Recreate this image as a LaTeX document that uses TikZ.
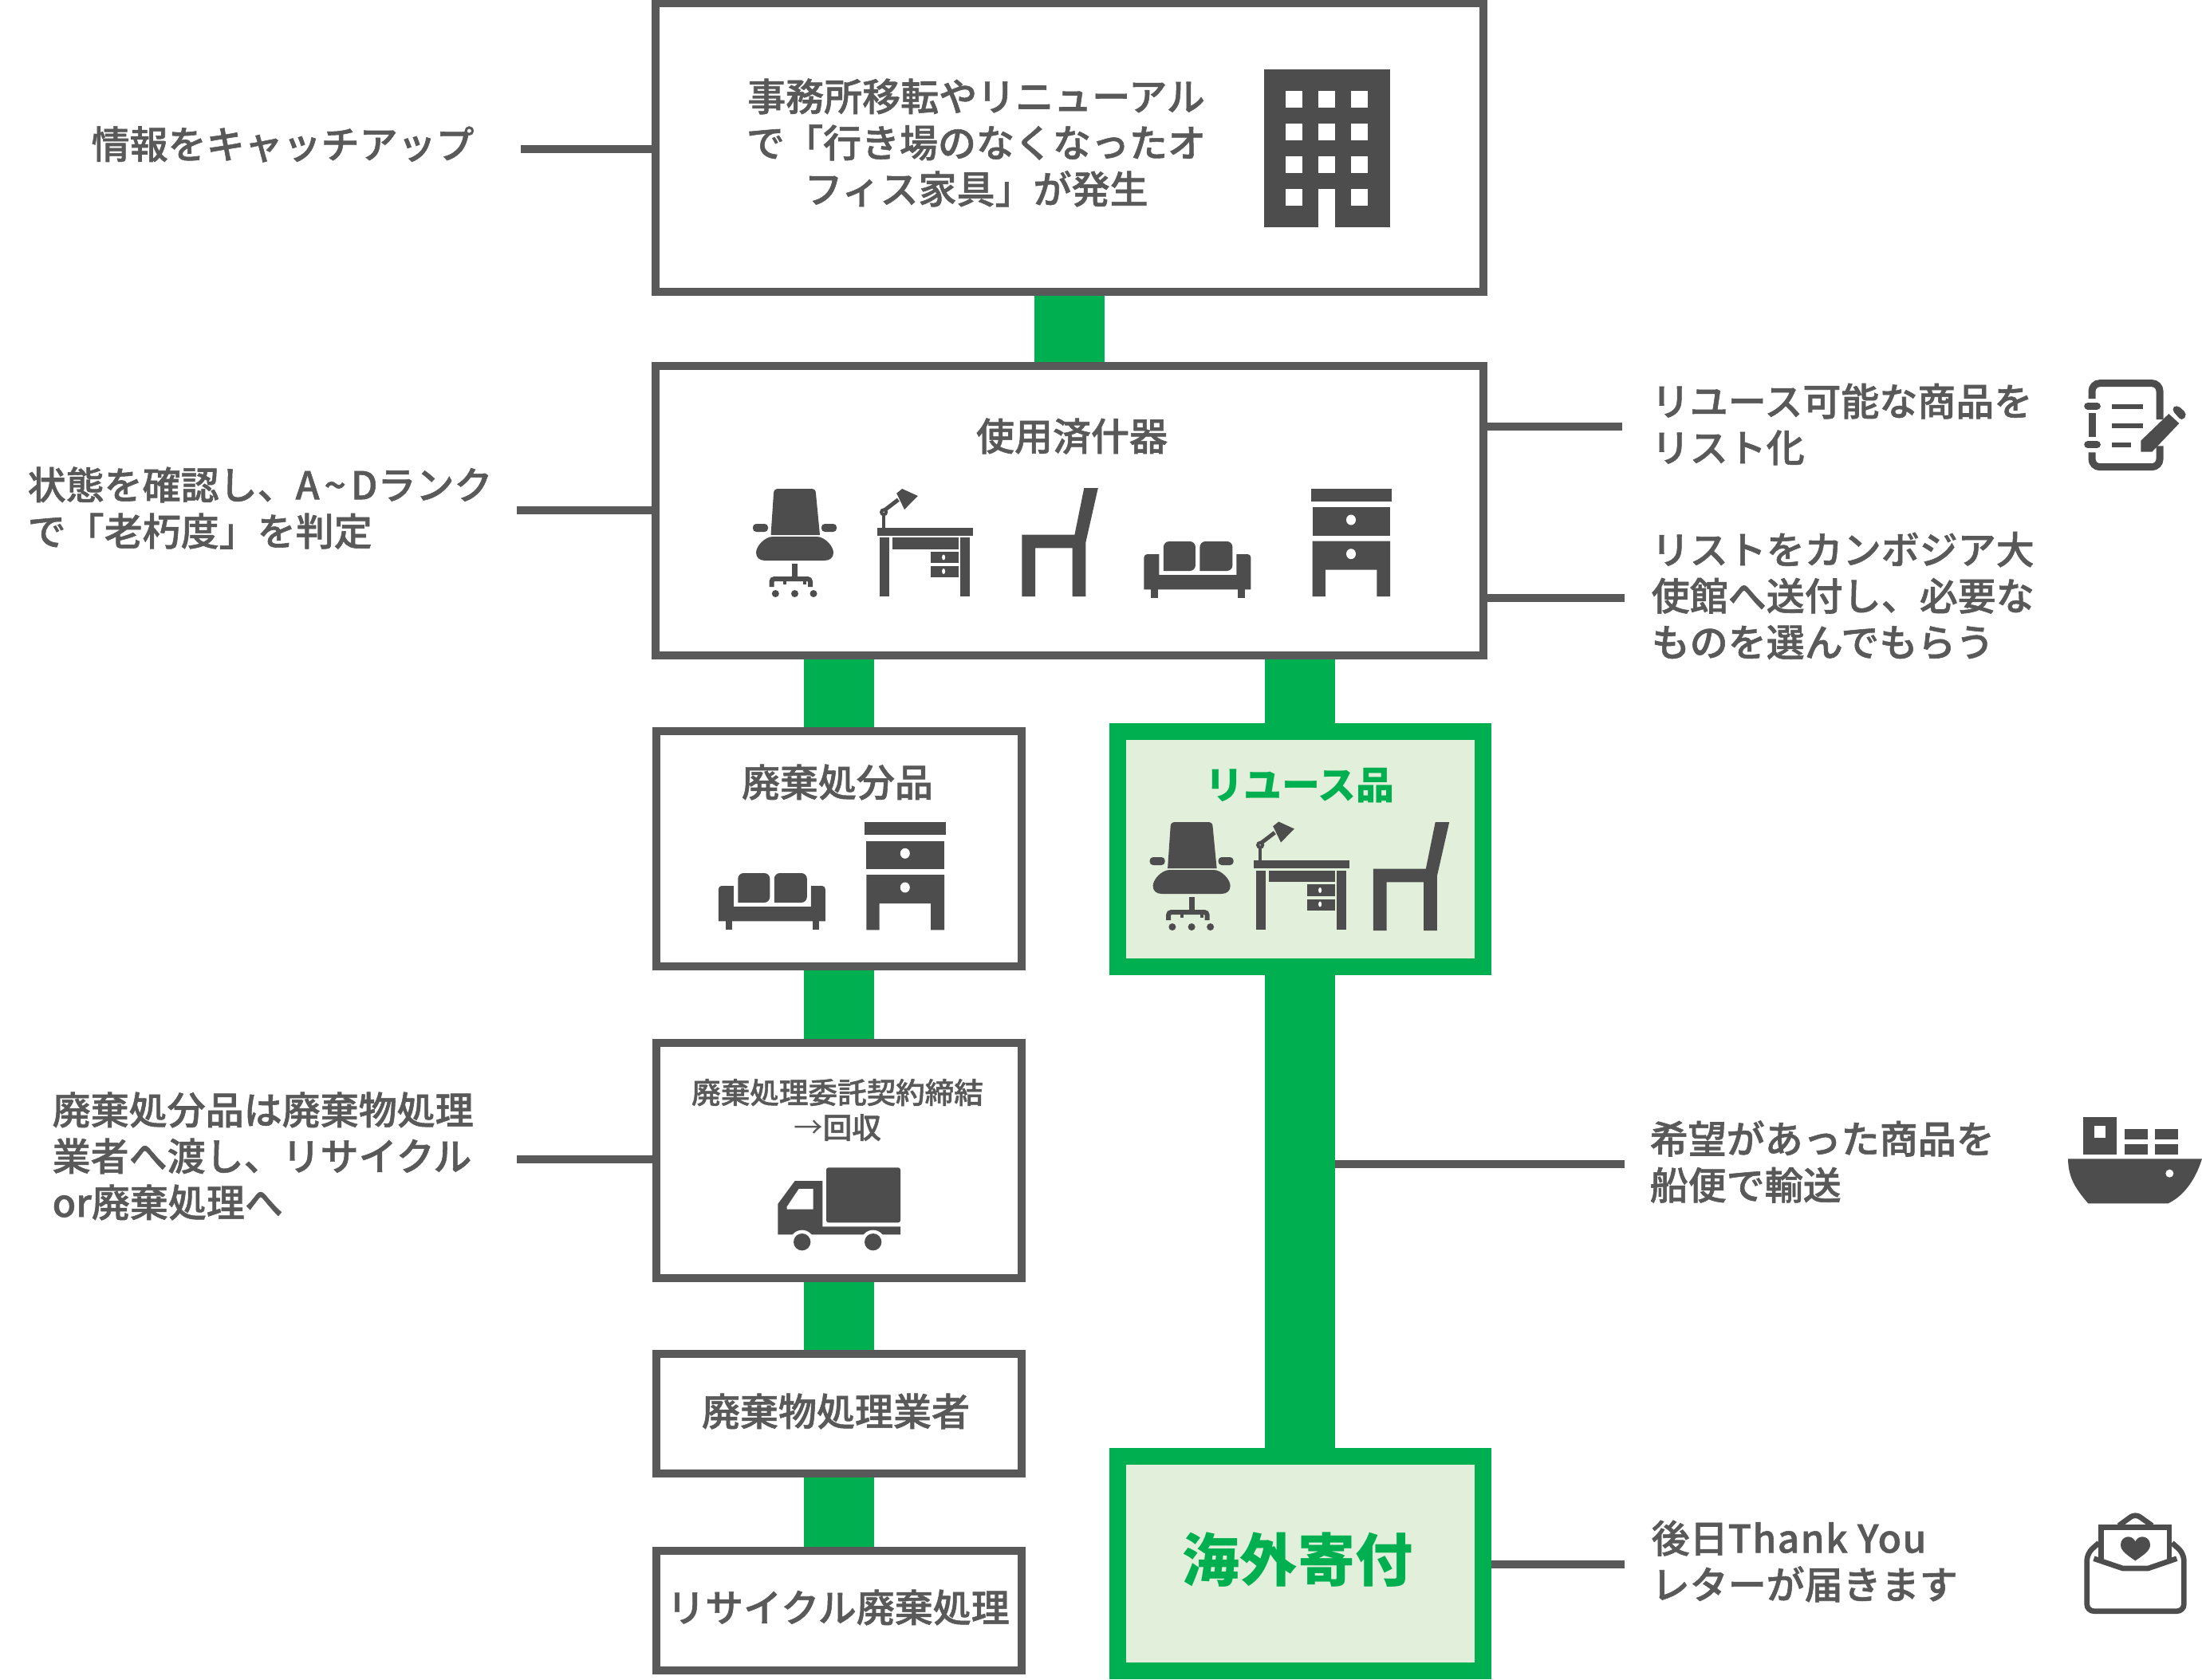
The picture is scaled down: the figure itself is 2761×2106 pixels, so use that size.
\documentclass[tikz,border=0pt]{standalone}
\usepackage{fontspec}
\setmainfont{Noto Sans CJK JP}[BoldFont={Noto Sans CJK JP Medium},BoldFeatures={FakeBold=1.2}]
\newfontfamily\heavyface{Noto Sans CJK JP}
\usetikzlibrary{positioning}
\definecolor{ink}{HTML}{595959}
\definecolor{icon}{HTML}{4D4D4D}
\definecolor{flowc}{HTML}{00B050}
\definecolor{pale}{HTML}{E2EFDA}
\tikzset{
  box/.style={draw=ink, fill=white, line width=0.1cm, inner sep=0pt},
  goodbox/.style={draw=flowc, fill=pale, line width=0.21cm, inner sep=0pt},
  flow/.style={flowc, line width=0.88cm},
  leader/.style={ink, line width=0.1cm},
  note/.style={text=ink, align=left, anchor=west, inner sep=0pt, font=\fontsize{13.65}{16.5}\selectfont\bfseries},
  title/.style={text=ink, align=center, inner sep=0pt, font=\fontsize{13.65}{16.5}\selectfont\bfseries},
}
% icons, (#1) is the top left corner
\newcommand{\deskchair}[1]{\begin{scope}[shift={#1}]
  \fill[icon] (22.5,58) -- (26,6) .. controls (26,2) and (28,0) .. (32,0) -- (73,0) .. controls (77,0) and (79,2) .. (79,6) -- (84,58) -- cycle;
  \fill[icon, rounded corners=1.2pt] (0,44) rectangle (19,54);
  \fill[icon, rounded corners=1.2pt] (86,44) rectangle (105,54);
  \fill[icon] (25,60) -- (80,60) .. controls (90,60) and (101,72) .. (101,80) .. controls (101,86) and (97,90) .. (90,90) -- (15,90) .. controls (8,90) and (4,86) .. (4,80) .. controls (4,72) and (15,60) .. (25,60) -- cycle;
  \fill[icon] (49,94) rectangle (56,110);
  \draw[icon, line width=0.06cm, rounded corners=1pt] (23.5,123) -- (23.5,113) -- (72,113) -- (72,123);
  \draw[icon, line width=0.04cm] (40,113) -- (40,120) (65,113) -- (65,120);
  \foreach \xx in {28.3,52.5,76} \fill[icon] (\xx,131.5) ellipse (4.5 and 4.5);
\end{scope}}
\newcommand{\officedesk}[1]{\begin{scope}[shift={#1}]
  \fill[icon] (0,48.5) rectangle (120,58.5);
  \fill[icon] (3.5,61) rectangle (15.5,135);
  \fill[icon] (104,61) rectangle (116,135);
  \fill[icon] (19,61) rectangle (102,75.5);
  \fill[icon] (67,78.7) rectangle (102,93);
  \fill[icon] (67,97) rectangle (102,111.3);
  \fill[white] (83.5,86) ellipse (2 and 3.5);
  \fill[white] (83.5,103.5) ellipse (2 and 3.5);
  \draw[icon, line width=0.04cm] (8.5,32) -- (8.5,48.5);
  \draw[icon, line width=0.04cm] (8.5,29.3) circle (3);
  \draw[icon, line width=0.05cm] (10,26.5) -- (26.7,13.7);
  \fill[icon] (31.6,0) -- (51.3,9) -- (34.4,26) -- (24.6,5.7) -- cycle;
\end{scope}}
\newcommand{\sidechair}[1]{\begin{scope}[shift={#1}]
  \fill[icon] (77.9,0) -- (95.4,0) -- (80,68) -- (80,136) -- (63.2,136) -- (63.2,75.3) -- (16.8,75.3) -- (16.8,136) -- (0,136) -- (0,58.7) -- (66,58.7) -- cycle;
\end{scope}}
\newcommand{\sofa}[1]{\begin{scope}[shift={#1}]
  \fill[icon, rounded corners=2pt] (24.5,37) -- (24.5,0) -- (64.5,0) -- (64.5,37) [sharp corners] -- cycle;
  \fill[icon, rounded corners=2pt] (70,37) -- (70,0) -- (111,0) -- (111,37) [sharp corners] -- cycle;
  \fill[icon] (0,60.3) -- (0,20) .. controls (0,18) and (2,16) .. (4,16) -- (19,16) -- (19,42) -- (116,42) -- (116,16) -- (130,16) .. controls (132,16) and (134,18) .. (134,20) -- (134,60.3) -- cycle;
  \fill[icon] (9,60.3) rectangle (17.5,71);
  \fill[icon] (118,60.3) rectangle (126.5,71);
\end{scope}}
\newcommand{\cabinet}[1]{\begin{scope}[shift={#1}]
  \fill[icon] (0,0) rectangle (101.7,16);
  \fill[icon] (2,23.6) rectangle (99.7,59.3);
  \fill[icon] (2,66) -- (99.7,66) -- (99.7,135.3) -- (82.9,135.3) -- (82.9,102) -- (18.3,102) -- (18.3,135.3) -- (2,135.3) -- cycle;
  \fill[white] (50.5,39.3) ellipse (6 and 6.5);
  \fill[white] (50.5,82) ellipse (6 and 6.5);
\end{scope}}

\begin{document}
\begin{tikzpicture}[x=0.01cm, y=-0.01cm]
  \useasboundingbox (0,0) rectangle (2761,2106);
  % boxes
  \node[box, minimum width=10.37cm, minimum height=3.61cm] (office) at (1341,185) {};
  \node[box, minimum width=10.37cm, minimum height=3.63cm] (used) at (1341,640.5) {};
  \node[box, minimum width=4.58cm, minimum height=2.947cm] (disposal) at (1052,1064.3) {};
  \node[goodbox, minimum width=4.58cm, minimum height=2.947cm] (reuse) at (1630.4,1064.9) {};
  \node[box, minimum width=4.58cm, minimum height=2.95cm] (contract) at (1052,1455.5) {};
  \node[box, minimum width=4.58cm, minimum height=1.497cm] (dealer) at (1052,1773) {};
  \node[box, minimum width=4.58cm, minimum height=1.5cm] (recycle) at (1052,2020) {};
  \node[goodbox, minimum width=4.58cm, minimum height=2.69cm] (donate) at (1630.4,1961) {};
  % green bars
  \draw[flow] (office) -- (used);
  \draw[flow] (disposal.north) -- (disposal.north |- used.south);
  \draw[flow] (reuse.north) -- (reuse.north |- used.south);
  \draw[flow] (disposal) -- (contract);
  \draw[flow] (contract) -- (dealer);
  \draw[flow] (dealer) -- (recycle);
  \draw[flow] (reuse) -- (donate);
  % box texts
  \node[title] (officetxt) at (1224,179) {事務所移転やリニューアル\\で「行き場のなくなったオ\\フィス家具」が発生};
  \node[title] (usedtxt) at (1344,547) {使用済什器};
  \node[title] (disposaltxt) at (1050,981) {廃棄処分品};
  \node[title, text=flowc, font=\fontsize{13.65}{16.5}\selectfont\heavyface\bfseries] (reusetxt) at (1630,985) {リユース品};
  \node[title, font=\fontsize{10.4}{12.5}\selectfont\bfseries] (contracttxt) at (1050,1392) {廃棄処理委託契約締結\\{\mdseries →}回収};
  \node[title] (dealertxt) at (1048,1770) {廃棄物処理業者};
  \node[title] (recycletxt) at (1051,2016) {リサイクル廃棄処理};
  \node[title, text=flowc, font=\fontsize{20.5}{24}\selectfont\heavyface\bfseries] (donatetxt) at (1627,1956) {海外寄付};
  % side notes
  \node[note] (catchup) at (114,181) {情報をキャッチアップ};
  \node[note] (grade) at (34,637) {状態を確認し、A\kern1.7pt\char126\kern1.7pt Dランク\\で「老朽度」を判定};
  \node[note] (handover) at (65,1450) {廃棄処分品は廃棄物処理\\業者へ渡し、リサイクル\\or廃棄処理へ};
  \node[note] (listing) at (2070,532) {リユース可能な商品を\\リスト化};
  \node[note] (embassy) at (2070,747) {リストをカンボジア大\\使館へ送付し、必要な\\ものを選んでもらう};
  \node[note] (shipping) at (2068,1457) {希望があった商品を\\船便で輸送};
  \node[note] (thanks) at (2070,1958) {後日{\addfontfeature{LetterSpace=3}Thank You}\\レターが届きます};
  % leader lines
  \coordinate (catchupend) at (653,187);
  \coordinate (gradeend) at (648,640);
  \coordinate (handoverend) at (648,1454);
  \coordinate (listingend) at (2034,535);
  \coordinate (embassyend) at (2037,750);
  \coordinate (shippingend) at (2037,1460);
  \coordinate (barside) at (1674,1460);
  \coordinate (thanksend) at (2037,1962);
  \draw[leader] (catchupend) -- (catchupend -| office.west);
  \draw[leader] (gradeend) -- (gradeend -| used.west);
  \draw[leader] (handoverend) -- (handoverend -| contract.west);
  \draw[leader] (listingend) -- (listingend -| used.east);
  \draw[leader] (embassyend) -- (embassyend -| used.east);
  \draw[leader] (shippingend) -- (barside);
  \draw[leader] (thanksend) -- (thanksend -| donate.east);
  % furniture
  \deskchair{(944,613)}
  \officedesk{(1099.6,613)}
  \sidechair{(1281.4,612)}
  \sofa{(1434.4,679)}
  \cabinet{(1643.5,612.7)}
  \sofa{(900.8,1095)}
  \cabinet{(1084.3,1031)}
  \deskchair{(1441.6,1031)}
  \officedesk{(1571.6,1030.5)}
  \sidechair{(1721.8,1031)}
  % building
  \fill[icon] (1585.3,87) rectangle (1742.7,285);
  \foreach \xx in {1612.3,1653.3,1694.3}{\foreach \yy in {114,155,196,237}{%
    \fill[white] (\xx,\yy) rectangle ++(21,20.7);}}
  \fill[white] (1653.3,237) rectangle (1674.3,285);
  % truck
  \begin{scope}[shift={(800,1290)}, scale=1/3]
    \fill[icon, rounded corners=0.8pt] (708,523) rectangle (987,730);
    \fill[icon] (526,660) -- (590,573) -- (694,573) -- (694,745) -- (987,745) -- (987,775) -- (526,775) -- cycle;
    \fill[white] (560,670) -- (605,603) -- (659,603) -- (659,680) -- (560,680) -- cycle;
    \fill[white] (617,803) circle (45);
    \fill[white] (884,803) circle (45);
    \fill[icon] (617,803) circle (32);
    \fill[icon] (884,803) circle (32);
  \end{scope}
  % notebook
  \begin{scope}[shift={(2560,450)}, scale=1/3]
    \draw[icon, line width=0.09cm, rounded corners=2.8pt] (189,150) -- (189,92) -- (444,92) -- (444,228);
    \draw[icon, line width=0.09cm, rounded corners=2.8pt] (444,328) -- (444,407) -- (189,407) -- (189,352);
    \draw[icon, line width=0.09cm] (189,205) -- (189,295);
    \draw[icon, line width=0.09cm, line cap=round] (173,177) -- (208,177);
    \draw[icon, line width=0.09cm, line cap=round] (173,323) -- (208,323);
    \fill[icon] (264,170) rectangle (382,190);
    \fill[icon] (264,242) rectangle (382,262);
    \fill[icon] (264,314) rectangle (336,333);
    \fill[icon] (373,350) -- (373,308) -- (478,207) -- (517,243) -- (415,350) -- cycle;
    \fill[icon, rounded corners=1.5pt] (487,189) -- (508,172) -- (548,208) -- (527,235) -- cycle;
  \end{scope}
  % ship
  \begin{scope}[shift={(2560,1380)}, scale=1/3]
    \fill[icon] (155,64) rectangle (281,205);
    \fill[white] (198,97) rectangle (240,141);
    \fill[icon] (312,107) rectangle (398,148);
    \fill[icon] (425,107) rectangle (512,148);
    \fill[icon] (312,164) rectangle (398,205);
    \fill[icon] (425,164) rectangle (512,205);
    \fill[icon] (99,220) -- (603,220) .. controls (575,310) and (525,365) .. (475,388) -- (175,388) .. controls (125,330) and (100,290) .. (99,220) -- cycle;
    \fill[white] (481,275) circle (15);
  \end{scope}
  % envelope
  \begin{scope}[shift={(2560,1880)}, scale=1/3]
    \draw[icon, line width=0.067cm, rounded corners=2.5pt] (215,165) -- (170,205) -- (170,422) -- (535,422) -- (535,205) -- (490,165);
    \draw[icon, line width=0.067cm] (224,232) -- (224,107) -- (480,107) -- (480,232);
    \draw[icon, line width=0.067cm, rounded corners=2pt] (290,100) -- (352,55) -- (415,100);
    \draw[icon, line width=0.067cm] (196,224) -- (305,261) -- (400,261) -- (508,224);
    \fill[icon] (352,232) .. controls (320,210) and (297,195) .. (297,172) .. controls (297,152) and (312,142) .. (325,142) .. controls (338,142) and (348,150) .. (352,160) .. controls (356,150) and (366,142) .. (379,142) .. controls (392,142) and (408,152) .. (408,172) .. controls (408,195) and (384,210) .. (352,232) -- cycle;
  \end{scope}
\end{tikzpicture}
\end{document}
